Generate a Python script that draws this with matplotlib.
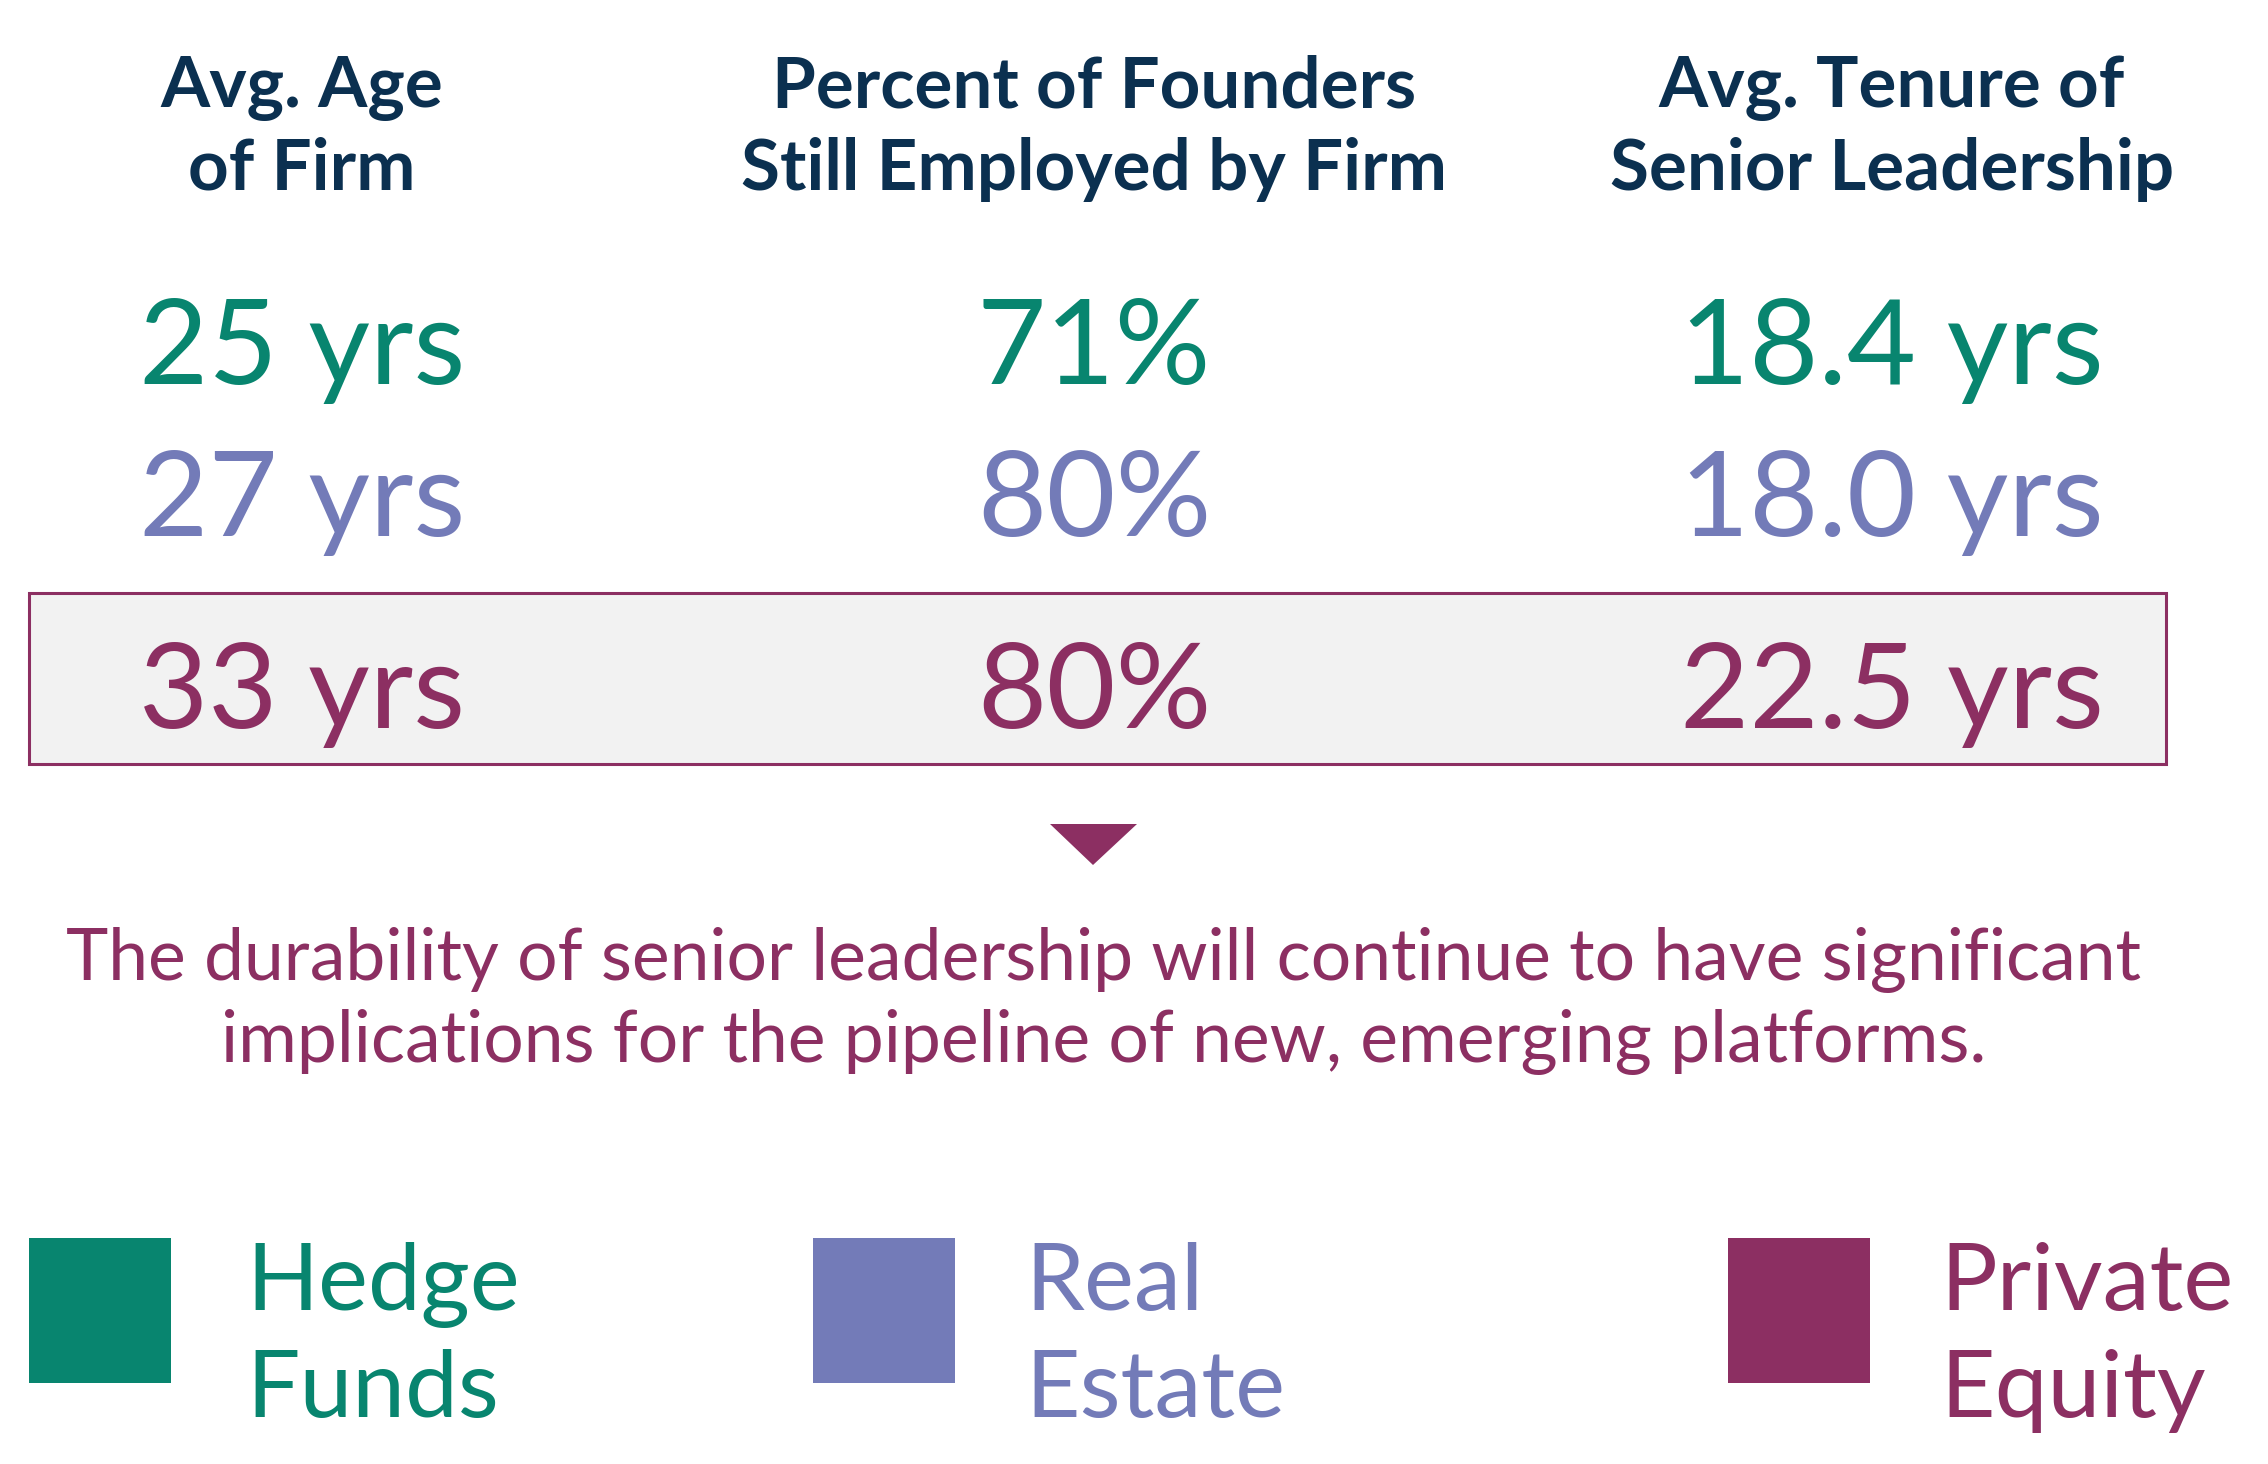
import matplotlib
matplotlib.use("Agg")
import matplotlib.pyplot as plt
from matplotlib.patches import Rectangle, Polygon

# data
headers = [
    "Avg. Age\nof Firm",
    "Percent of Founders\nStill Employed by Firm",
    "Avg. Tenure of\nSenior Leadership",
]
categories = ["Hedge\nFunds", "Real\nEstate", "Private\nEquity"]
avg_age = [25, 27, 33]
pct_founders = [71, 80, 80]
avg_tenure = [18.4, 18.0, 22.5]
colors = ["#08856f", "#737bb8", "#8c2f62"]
caption = ("The durability of senior leadership will continue to have significant\n"
           "implications for the pipeline of new, emerging platforms.")
navy = "#0b3050"

W, H = 2268, 1464
fig = plt.figure(figsize=(W / 100, H / 100), dpi=100)
ax = fig.add_axes([0, 0, 1, 1])
ax.set_xlim(0, W)
ax.set_ylim(H, 0)
ax.axis("off")

font = "Lato"
col_x = [302, 1094, 1892]

# headers
for x, h in zip(col_x, headers):
    l1, l2 = h.split("\n")
    ax.text(x, 107, l1, ha="center", va="baseline", fontsize=51,
            fontweight="bold", color=navy, family=font)
    ax.text(x, 190, l2, ha="center", va="baseline", fontsize=51,
            fontweight="bold", color=navy, family=font)

# highlight box for private equity row
ax.add_patch(Rectangle((29, 593), 2137, 171, facecolor="#f2f2f2",
                       edgecolor=colors[2], linewidth=2.2, zorder=1))

row_y = [384, 536, 728]
for i in range(3):
    vals = [f"{avg_age[i]} yrs", f"{pct_founders[i]}%", f"{avg_tenure[i]:.1f} yrs"]
    for x, v in zip(col_x, vals):
        ax.text(x, row_y[i], v, ha="center", va="baseline", fontsize=86,
                color=colors[i], family=font, zorder=3)

# arrow
ax.add_patch(Polygon([(1050, 824), (1137, 824), (1093, 865)], closed=True,
                     facecolor=colors[2], edgecolor="none"))

# caption
for j, line in enumerate(caption.split("\n")):
    ax.text(1104, 980 + j * 82, line, ha="center", va="baseline", fontsize=51.5,
            color=colors[2], family=font)

# legend
sq_x = [29, 813, 1728]
txt_x = [246, 1025, 1940]
for sx, tx, c, lab in zip(sq_x, txt_x, colors, categories):
    ax.add_patch(Rectangle((sx, 1238), 142, 145, facecolor=c, edgecolor="none"))
    l1, l2 = lab.split("\n")
    ax.text(tx, 1310, l1, ha="left", va="baseline", fontsize=68,
            color=c, family=font)
    ax.text(tx, 1417, l2, ha="left", va="baseline", fontsize=68,
            color=c, family=font)

fig.savefig("out.png", dpi=100, facecolor="white")
